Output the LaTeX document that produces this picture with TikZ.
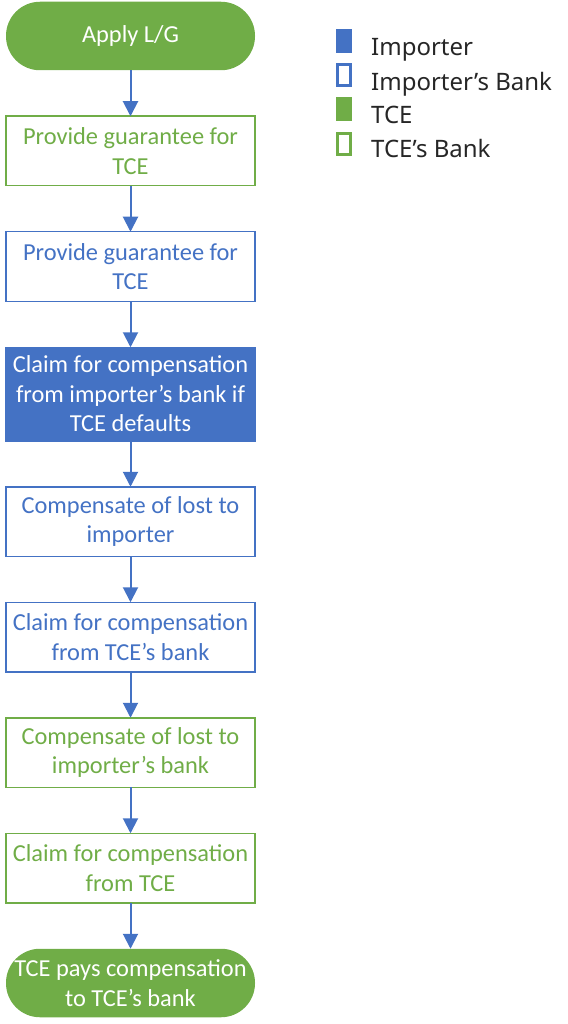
\documentclass[tikz,border=0pt]{standalone}
\usepackage{fontspec}
\setmainfont{Carlito}
\newfontfamily\legendfont{Noto Sans}
\usetikzlibrary{positioning,arrows.meta}

\definecolor{impblue}{HTML}{4472C4}
\definecolor{tcegreen}{HTML}{70AD47}

\begin{document}
\begin{tikzpicture}[x=1pt,y=-1pt,
    node distance=46pt,
    box/.style={rectangle, minimum width=249pt, minimum height=69.5pt, inner sep=2pt, outer sep=0pt,
        align=center, line width=1.5pt, font=\fontsize{24.4}{29.5}\selectfont},
    term/.style={box, rounded corners=34pt, fill=tcegreen, text=white, minimum height=68.5pt},
    greenbox/.style={box, draw=tcegreen, text=tcegreen},
    bluebox/.style={box, draw=impblue, text=impblue},
    fullbox/.style={box, draw=impblue, fill=impblue, text=white},
    flow/.style={-{Triangle[length=15pt,width=15pt]}, line width=2pt, draw=impblue},
    legsq/.style={minimum width=16pt, minimum height=24pt, inner sep=0pt},
    legline/.style={legsq, line width=2.7pt, minimum width=13.3pt, minimum height=21.3pt},
    legtxt/.style={anchor=base west, inner sep=0pt, text=black!85,
        font=\legendfont\fontsize{24}{28}\selectfont}]

    \useasboundingbox (0,0) rectangle (567,1024);

    % flow of the guarantee
    \node [term] (start) at (130.5,36) {Apply L/G};
    \node [greenbox, below=of start] (guar) {Provide guarantee for\\TCE};
    \node [bluebox, below=of guar] (bguar) {Provide guarantee for\\TCE};
    \node [fullbox, below=of bguar, minimum height=93.5pt] (claim) {Claim for compensation\\from importer’s bank if\\TCE defaults};
    \node [bluebox, below=of claim] (comp) {Compensate of lost to\\importer};
    \node [bluebox, below=of comp] (claimb) {Claim for compensation\\from TCE’s bank};
    \node [greenbox, below=of claimb] (compb) {Compensate of lost to\\importer’s bank};
    \node [greenbox, below=of compb] (claimt) {Claim for compensation\\from TCE};
    \node [term, below=of claimt] (pay) {TCE pays compensation\\to TCE’s bank};

    \foreach \a/\b in {start/guar, guar/bguar, bguar/claim, claim/comp,
        comp/claimb, claimb/compb, compb/claimt, claimt/pay}
        \draw [flow] (\a) -- (\b);

    % legend
    \node [legsq, fill=impblue] (kimp) at (344,41) {};
    \node [legline, draw=impblue] (kbank) at (344,75) {};
    \node [legsq, fill=tcegreen] (ktce) at (344,109) {};
    \node [legline, draw=tcegreen] (ktbank) at (344,144) {};

    \node [legtxt] (limp) at (371,56) {Importer};
    \node [legtxt] (lbank) at (371,90.5) {Importer’s Bank};
    \node [legtxt] (ltce) at (371,124) {TCE};
    \node [legtxt] (ltbank) at (371,158) {TCE’s Bank};

\end{tikzpicture}
\end{document}
